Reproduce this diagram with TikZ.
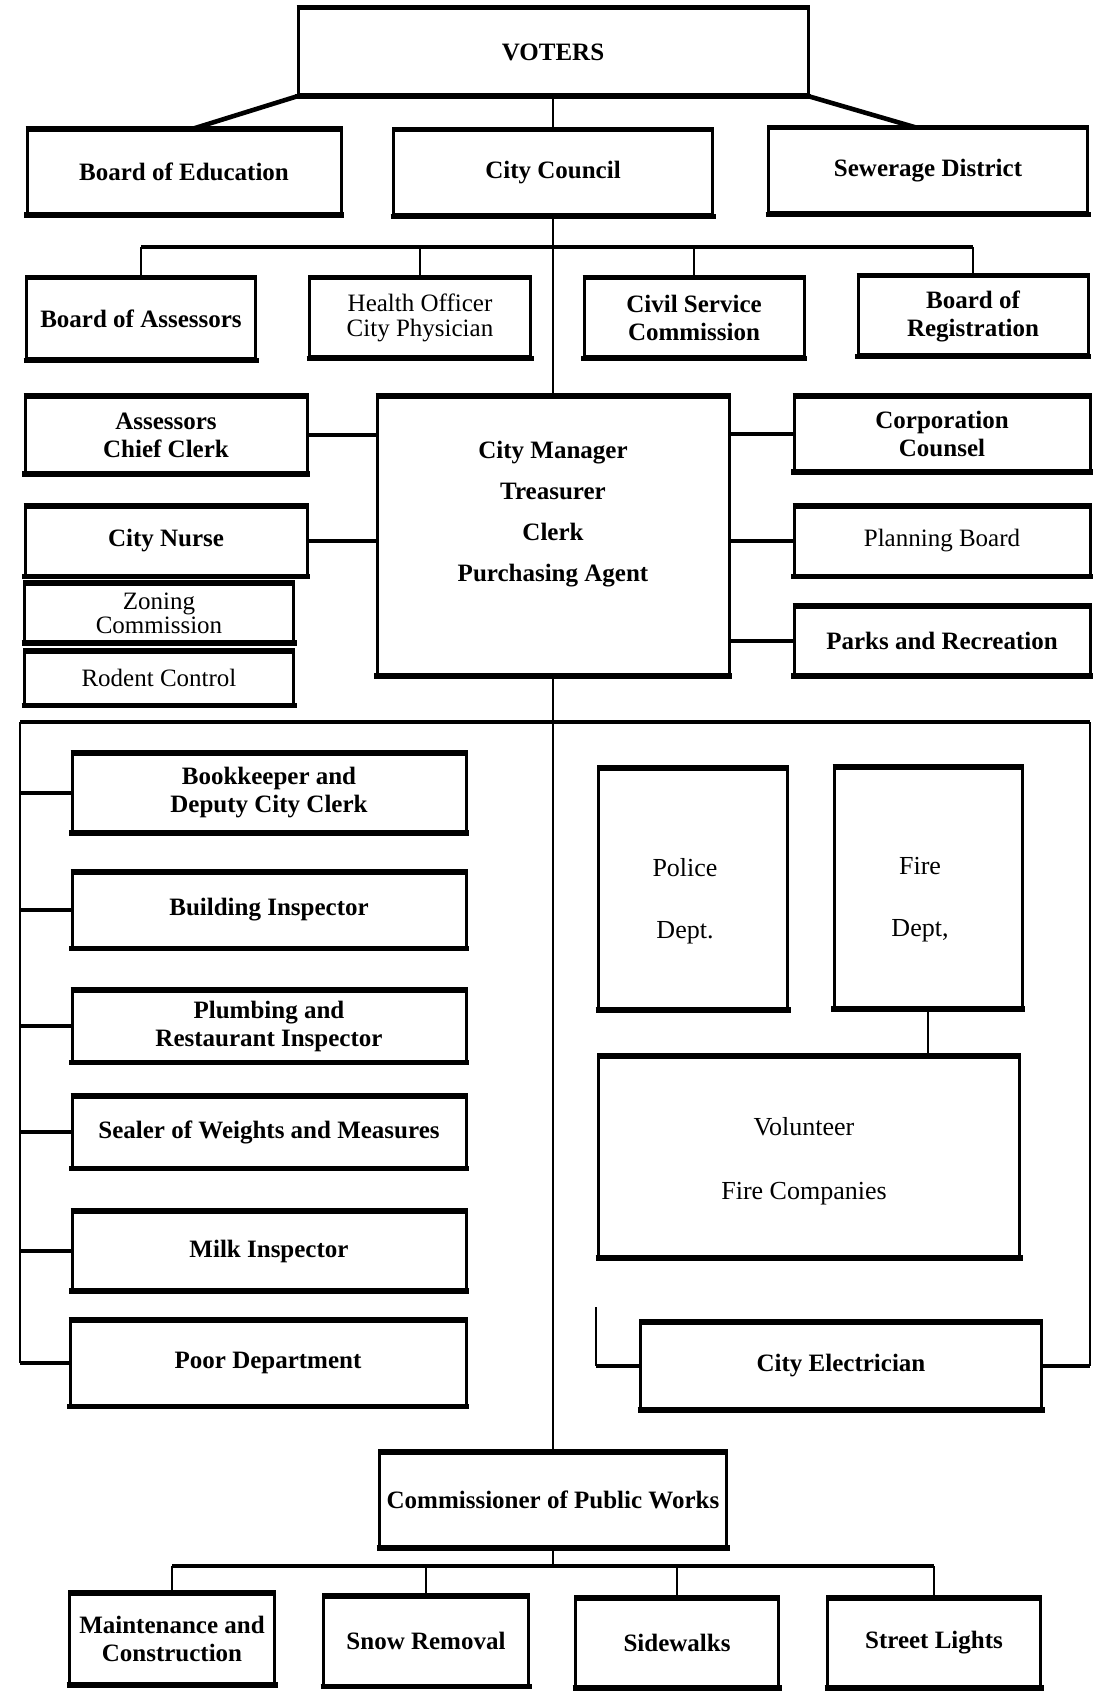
\documentclass[tikz,border=0pt]{standalone}
\usepackage{fontspec}
\setmainfont{Liberation Serif}
\newcommand{\boldlbl}{\fontsize{12.5}{14}\selectfont\bfseries}
\newcommand{\plainlbl}{\fontsize{12.5}{12.5}\selectfont}

\tikzset{
  orgbox/.style 2 args={draw, line width=1.5pt, minimum width=#1*0.5pt,
    minimum height=#2*0.5pt, inner sep=1pt, align=center, font=\boldlbl},
  plainbox/.style 2 args={orgbox={#1}{#2}, font=\plainlbl},
  thinlink/.style={line width=1.2pt},
  thicklink/.style={line width=2.3pt}
}

\begin{document}
\begin{tikzpicture}[x=0.5pt,y=-0.5pt]
  \useasboundingbox[fill=white] (0,0) rectangle (1094,1701);

  % top of the chart
  \node[orgbox={510}{86}] (voters) at (553,52) {VOTERS};
  \node[orgbox={314}{83}] (boe) at (184,172) {Board of Education};
  \node[orgbox={319}{84}] (council) at (553,173) {City Council};
  \node[orgbox={319}{84}] (sewer) at (928,171) {Sewerage District};

  % boards under the council
  \node[orgbox={229}{80}] (assessors) at (141,319) {Board of Assessors};
  \node[plainbox={221}{78}] (health) at (420,318) {Health Officer\\City Physician};
  \node[orgbox={220}{78}] (civil) at (694,318) {Civil Service\\Commission};
  \node[orgbox={230}{78}] (registration) at (973,316) {Board of\\Registration};

  % city manager and staff
  \node[orgbox={352}{277}] (cm) at (553,536) {};
  \node[font=\fontsize{12.5}{20.5}\selectfont\bfseries, align=center] (cmtitle)
    at ([yshift=11pt]cm.center) {City Manager\\Treasurer\\Clerk\\Purchasing Agent};
  \node[orgbox={282}{75}] (chiefclerk) at (166,435) {Assessors\\Chief Clerk};
  \node[orgbox={282}{68}] (nurse) at (166,541) {City Nurse};
  \node[plainbox={269}{57}, font=\fontsize{12.5}{10.5}\selectfont] (zoning) at (159,613) {Zoning\\Commission};
  \node[plainbox={269}{52}] (rodent) at (159,678) {Rodent Control};
  \node[orgbox={296}{73}] (counsel) at (942,434) {Corporation\\Counsel};
  \node[plainbox={296}{68}] (planning) at (942,541) {Planning Board};
  \node[orgbox={296}{67}] (parks) at (942,641) {Parks and Recreation};

  % left column
  \node[orgbox={394}{77}] (bookkeeper) at (269,793) {Bookkeeper and\\Deputy City Clerk};
  \node[orgbox={394}{74}] (building) at (269,910) {Building Inspector};
  \node[orgbox={394}{70}] (plumbing) at (269,1026) {Plumbing and\\Restaurant Inspector};
  \node[orgbox={394}{70}] (sealer) at (269,1132) {Sealer of Weights and Measures};
  \node[orgbox={394}{77}] (milk) at (269,1251) {Milk Inspector};
  \node[orgbox={396}{84}] (poor) at (268,1363) {Poor Department};

  % right column
  \node[orgbox={189}{239}] (police) at (693,889) {};
  \node[font=\fontsize{13}{31}\selectfont, align=center] (policetxt)
    at ([xshift=-4pt,yshift=-6pt]police.center) {Police\\Dept.};
  \node[orgbox={188}{239}] (fire) at (928,888) {};
  \node[font=\fontsize{13}{31}\selectfont, align=center] (firetxt)
    at ([xshift=-4pt,yshift=-6pt]fire.center) {Fire\\Dept,};
  \node[orgbox={421}{199}] (volunteer) at (809,1157) {};
  \node[font=\fontsize{13}{32}\selectfont, align=center] (volunteertxt)
    at ([xshift=-2.5pt,yshift=-2pt]volunteer.center) {Volunteer\\Fire Companies};
  \node[orgbox={401}{85}] (electrician) at (841,1366) {City Electrician};

  % public works
  \node[orgbox={347}{93}] (works) at (553,1500) {Commissioner of Public Works};
  \node[orgbox={205}{89}] (maintenance) at (172,1639) {Maintenance and\\Construction};
  \node[orgbox={205}{88}] (snow) at (426,1641) {Snow Removal};
  \node[orgbox={203}{87}] (sidewalks) at (677,1643) {Sidewalks};
  \node[orgbox={213}{87}] (lights) at (934,1643) {Street Lights};

  % heavy top and bottom edges
  \foreach \n in {voters, boe, council, sewer, assessors, health, civil, registration,
      cm, chiefclerk, nurse, zoning, rodent, counsel, planning, parks,
      bookkeeper, building, plumbing, sealer, milk, poor,
      police, fire, volunteer, electrician, works, maintenance, snow, sidewalks, lights}
    \draw[line width=2.6pt, shorten <=-0.75pt, shorten >=-0.75pt]
      (\n.north west) -- (\n.north east) (\n.south west) -- (\n.south east);

  % trunk
  \draw[thicklink] (voters.south west) -- ([xshift=4pt]boe.north);
  \draw[thicklink] (voters.south east) -- ([xshift=-6pt]sewer.north);
  \draw[thinlink] (voters.south) -- (council.north);
  \draw[thinlink] (council.south) -- (cm.north);
  \draw[thinlink] (cm.south) -- (works.north);

  % boards
  \coordinate (boardbus) at (553,247);
  \draw[thicklink] (assessors.north |- boardbus) -- (registration.north |- boardbus);
  \foreach \n in {assessors, health, civil, registration}
    \draw[thinlink] (\n.north) -- (\n.north |- boardbus);

  % staff
  \foreach \n in {chiefclerk, nurse}
    \draw[thicklink] (\n.east) -- (\n.east -| cm.west);
  \foreach \n in {counsel, planning, parks}
    \draw[thicklink] (\n.west) -- (\n.west -| cm.east);

  % departments
  \coordinate (barleft) at (20,722);
  \coordinate (barright) at (1090,722);
  \draw[thicklink] (barleft) -- (barright);
  \draw[thinlink] (barleft) -- (barleft |- poor.west);
  \foreach \n in {bookkeeper, building, plumbing, sealer, milk, poor}
    \draw[thicklink] (\n.west) -- (\n.west -| barleft);
  \draw[thinlink] (barright) -- (barright |- electrician.east);
  \draw[thicklink] (electrician.east) -- (electrician.east -| barright);
  \coordinate (elecstub) at (596,1307);
  \draw[thinlink] (elecstub) -- (elecstub |- electrician.west);
  \draw[thicklink] (electrician.west) -- (electrician.west -| elecstub);
  \draw[thinlink] (fire.south) -- (fire.south |- volunteer.north);

  % public works
  \coordinate (worksbus) at (553,1566);
  \draw[thinlink] (works.south) -- (worksbus);
  \draw[thicklink] (maintenance.north |- worksbus) -- (lights.north |- worksbus);
  \foreach \n in {maintenance, snow, sidewalks, lights}
    \draw[thinlink] (\n.north) -- (\n.north |- worksbus);
\end{tikzpicture}
\end{document}
